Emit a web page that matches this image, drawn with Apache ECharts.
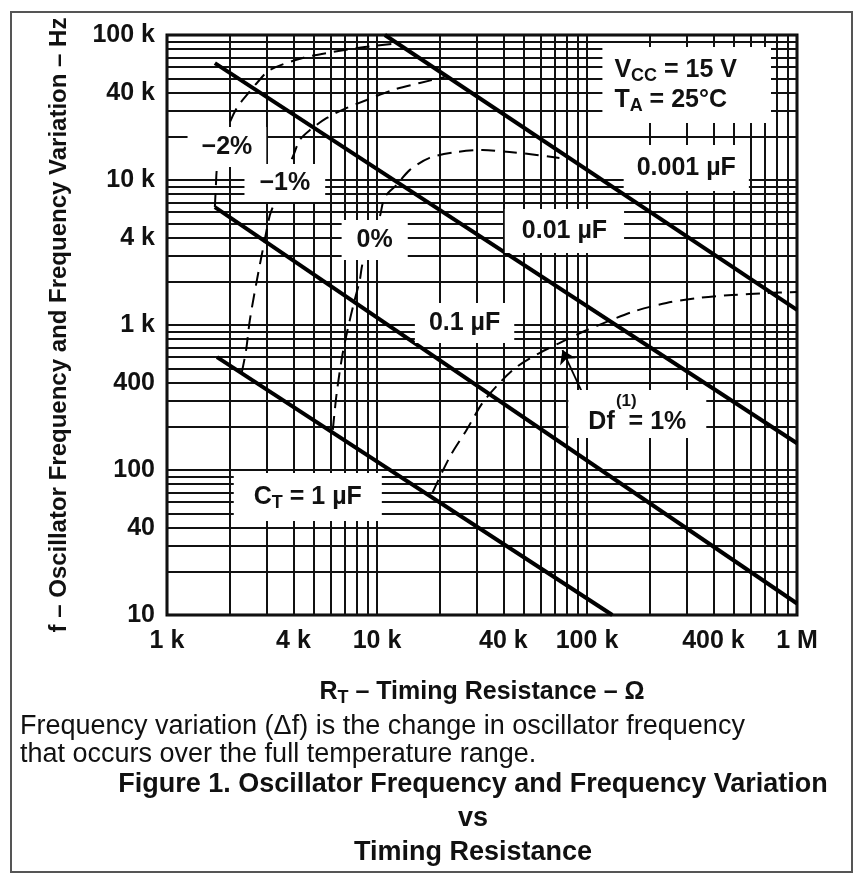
<!DOCTYPE html>
<html>
<head>
<meta charset="utf-8">
<title>Oscillator Frequency and Frequency Variation vs Timing Resistance</title>
<script src="https://cdn.jsdelivr.net/npm/echarts@6/dist/echarts.min.js"></script>
<style>
  html, body { margin: 0; padding: 0; background: #fff; }
  #chart { width: 857px; height: 876px; }
</style>
</head>
<body>
<div id="chart"></div>
<script>
// timing capacitor lines, points are [R_T (ohm), f (Hz)]
const ct1u = [[1730, 600], [132000, 10]];
const ct100n = [[1690, 6500], [1000000, 12]];
const ct10n = [[1690, 64000], [1000000, 153]];
const ct1n = [[10900, 100000], [1000000, 1270]];

// frequency variation contours (dashed)
const dfMinus2 = [[1690, 6500], [1710, 9200], [1730, 12100], [1830, 17400], [1950, 23200],
  [2150, 31400], [2400, 38600], [2680, 46700], [3090, 57400], [4430, 69400],
  [6160, 76300], [8740, 82600], [11700, 86700]];
const dfMinus1 = [[2270, 470], [2380, 670], [2480, 1080], [2680, 2040], [2920, 3860],
  [3090, 5740], [3260, 7050], [3600, 10800], [3970, 14400], [4290, 18900],
  [4790, 22100], [5770, 26800], [7180, 31400], [8930, 35600], [11900, 41800],
  [16000, 46700], [21000, 51300]];
const dfZero = [[6160, 189], [6430, 340], [6870, 641], [7420, 1080], [7830, 1490],
  [8280, 2040], [8550, 2680], [9440, 3860], [10300, 5560], [10900, 7630],
  [12400, 9240], [14300, 11700], [17800, 14200], [23900, 15600], [31800, 16100],
  [42800, 15600], [57500, 14900], [73900, 14200]];
const dfPlus1 = [[18400, 70], [22200, 123], [26700, 189], [31800, 290], [38300, 398],
  [46200, 513], [59400, 641], [73900, 751], [95100, 895], [124000, 1050],
  [164000, 1230], [239000, 1420], [342000, 1540], [491000, 1610], [713000, 1660],
  [1000000, 1690]];

// tick labels
const xTickValues = [1000, 4000, 10000, 40000, 100000, 400000, 1000000];
const xTickLabels = ['1 k', '4 k', '10 k', '40 k', '100 k', '400 k', '1 M'];
const yTickValues = [10, 40, 100, 400, 1000, 4000, 10000, 40000, 100000];
const yTickLabels = ['10', '40', '100', '400', '1 k', '4 k', '10 k', '40 k', '100 k'];

const FONT = '"Liberation Sans", Arial, Helvetica, sans-serif';
const INK = '#111';

// 1,2,...,9 x every decade, for the log grid
function logSteps(from, to) {
  const out = [];
  for (let d = from; d < to; d *= 10) {
    for (let k = 1; k < 10; k++) out.push(d * k);
  }
  out.push(to);
  return out;
}

function pickLabel(values, labels) {
  return function (v) {
    for (let i = 0; i < values.length; i++) {
      if (Math.abs(Math.log10(v) - Math.log10(values[i])) < 1e-6) return labels[i];
    }
    return '';
  };
}

const boxLabel = (text, padding, extra) => Object.assign({
  show: true,
  position: 'inside',
  formatter: text,
  backgroundColor: '#fff',
  padding: padding,
  color: INK,
  opacity: 1,
  fontFamily: FONT,
  fontWeight: 'bold',
  fontSize: 25,
  lineHeight: 26
}, extra || {});

const richSub = {
  m: { fontSize: 25, fontWeight: 'bold', fontFamily: FONT, color: INK, lineHeight: 30 },
  s: { fontSize: 18, fontWeight: 'bold', fontFamily: FONT, color: INK, lineHeight: 18, verticalAlign: 'bottom' }
};

const chart = echarts.init(document.getElementById('chart'));

const thick = (name, data) => ({
  name: name, type: 'line', data: data, symbol: 'none', z: 3,
  lineStyle: { color: '#000', width: 4 }, silent: true
});
const dashed = (name, data) => ({
  name: name, type: 'line', data: data, symbol: 'none', smooth: 0.3, z: 4,
  lineStyle: { color: '#000', width: 2, type: [14, 8] }, silent: true
});

const df1Series = dashed('Df = 1%', dfPlus1);
df1Series.markLine = {
  silent: true,
  symbol: ['none', 'arrow'],
  symbolSize: 13,
  lineStyle: { color: '#000', width: 1.8, type: 'solid' },
  label: { show: false },
  data: [[{ coord: [99000, 300] }, { coord: [76400, 672] }]]
};

chart.setOption({
  animation: false,
  backgroundColor: '#fff',
  grid: {
    left: 167, top: 35, right: 60, bottom: 261,
    show: true, borderColor: '#000', borderWidth: 3, backgroundColor: 'transparent'
  },
  xAxis: {
    type: 'log', logBase: 10, min: 1000, max: 1000000,
    axisLine: { show: false },
    axisTick: { show: false, customValues: logSteps(1000, 1000000) },
    splitLine: { show: true, lineStyle: { color: INK, width: 2 } },
    axisLabel: {
      customValues: xTickValues,
      formatter: pickLabel(xTickValues, xTickLabels),
      margin: 14, color: INK, fontFamily: FONT, fontWeight: 'bold', fontSize: 25
    },
    name: '{m|R}{s|T}{m| – Timing Resistance – Ω}',
    nameLocation: 'middle', nameGap: 62,
    nameTextStyle: { rich: richSub }
  },
  yAxis: {
    type: 'log', logBase: 10, min: 10, max: 100000,
    axisLine: { show: false },
    axisTick: { show: false, customValues: logSteps(10, 100000) },
    splitLine: { show: true, lineStyle: { color: INK, width: 2 } },
    axisLabel: {
      customValues: yTickValues,
      formatter: pickLabel(yTickValues, yTickLabels),
      margin: 12, color: INK, fontFamily: FONT, fontWeight: 'bold', fontSize: 25
    },
    name: 'f – Oscillator Frequency and Frequency Variation – Hz',
    nameLocation: 'middle', nameGap: 96, nameRotate: 90,
    nameTextStyle: { color: INK, fontFamily: FONT, fontWeight: 'bold', fontSize: 24 }
  },
  series: [
    thick('CT = 1 µF', ct1u),
    thick('0.1 µF', ct100n),
    thick('0.01 µF', ct10n),
    thick('0.001 µF', ct1n),
    dashed('−2%', dfMinus2),
    dashed('−1%', dfMinus1),
    dashed('0%', dfZero),
    df1Series,
    {
      name: 'labels', type: 'scatter', symbolSize: 0, z: 10, silent: true,
      itemStyle: { opacity: 1 },
      data: [
        { value: [1929, 16890], label: boxLabel('−2%', [7, 14]) },
        { value: [3640, 9535], label: boxLabel('−1%', [6, 15]) },
        { value: [9750, 3857], label: boxLabel('0%', [7, 15]) },
        { value: [78080, 4449], label: boxLabel('0.01 µF', [9, 17]) },
        { value: [297000, 12100], label: boxLabel('0.001 µF', [10, 13]) },
        { value: [26120, 1032], label: boxLabel('0.1 µF', [7, 14]) },
        { value: [4682, 65.1], label: boxLabel('{m|C}{s|T}{m| = 1 µF}', [9, 20], { rich: richSub }) },
        { value: [118400, 45200], label: boxLabel('{m|V}{s|CC}{m| = 15 V}\n{m|T}{s|A}{m| = 25°C}', [8, 34, 8, 12], { rich: richSub, align: 'left' }) },
        {
          value: [173600, 243],
          label: boxLabel('{sup|(1)}\n{m|Df  = 1%}', [3, 20], {
            rich: {
              sup: { fontSize: 17, fontWeight: 'bold', fontFamily: FONT, color: INK, lineHeight: 16, padding: [0, 22, 0, 0] },
              m: { fontSize: 25, fontWeight: 'bold', fontFamily: FONT, color: INK, lineHeight: 26 }
            }
          })
        }
      ]
    }
  ],
  graphic: [
    {
      type: 'rect', silent: true, z: -1,
      shape: { x: 11, y: 12, width: 841, height: 860 },
      style: { fill: 'none', stroke: '#555', lineWidth: 2 }
    },
    {
      type: 'text', silent: true, x: 20, y: 713,
      style: {
        text: 'Frequency variation (Δf) is the change in oscillator frequency\nthat occurs over the full temperature range.',
        fontFamily: FONT, fontSize: 27, lineHeight: 28, fill: INK,
        textAlign: 'left', textVerticalAlign: 'top'
      }
    },
    {
      type: 'text', silent: true, x: 473, y: 768,
      style: {
        text: 'Figure 1. Oscillator Frequency and Frequency Variation\nvs\nTiming Resistance',
        fontFamily: FONT, fontSize: 27, fontWeight: 'bold', lineHeight: 34, fill: INK,
        textAlign: 'center', textVerticalAlign: 'top'
      }
    }
  ]
});
</script>
</body>
</html>
